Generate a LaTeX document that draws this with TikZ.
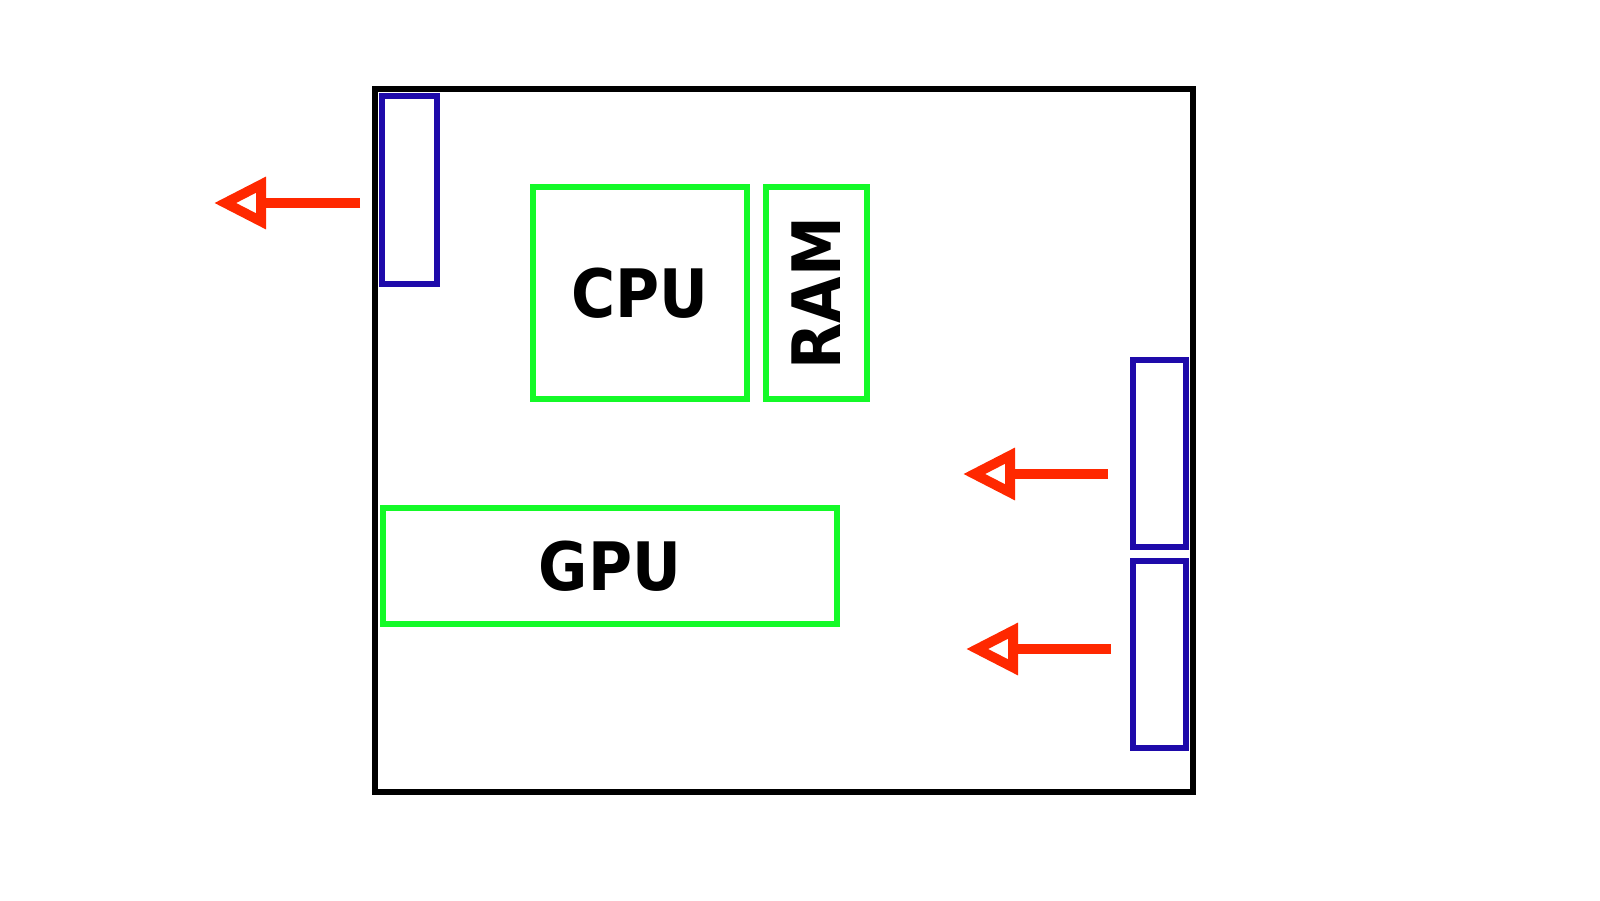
\documentclass[tikz,border=0pt]{standalone}
\usepackage{fontspec}
\newfontfamily\boldcond{DejaVu Sans Condensed}
\usetikzlibrary{arrows.meta}
\definecolor{fanblue}{RGB}{30,10,170}
\definecolor{partgreen}{RGB}{20,250,40}
\definecolor{flowred}{RGB}{255,40,0}
\tikzset{
  casebox/.style={draw=black, line width=1.7pt},
  fanbox/.style={draw=fanblue, line width=1.6pt},
  partfont/.style={font=\boldcond\bfseries\fontsize{19}{21}\selectfont},
  partbox/.style={draw=partgreen, line width=1.6pt, partfont},
  flow/.style={draw=flowred, line width=2.8pt, -{Triangle[open, length=5.2mm, width=5.0mm]}}
}
\begin{document}
\begin{tikzpicture}
\useasboundingbox (0,0) rectangle (16,9);
% case and parts
\draw[casebox] (3.75,1.08) rectangle (11.93,8.11);
\draw[fanbox] (3.82,6.16) rectangle (4.37,8.04);
\draw[fanbox] (11.33,3.53) rectangle (11.86,5.40);
\draw[fanbox] (11.33,1.52) rectangle (11.86,3.39);
\node[partbox, minimum width=2.14cm, minimum height=2.12cm] (cpu) at (6.40,6.07) {CPU};
\node[partbox, minimum width=1.01cm, minimum height=2.12cm] (ram) at (8.165,6.07) {};
\node[partfont, rotate=90] (ramlabel) at (ram) {RAM};
\node[partbox, minimum width=4.54cm, minimum height=1.16cm] (gpu) at (6.10,3.34) {GPU};
% airflow
\coordinate (in1) at (3.60,6.97);
\coordinate (out1) at (2.14,6.97);
\coordinate (in2) at (11.08,4.26);
\coordinate (out2) at (9.63,4.26);
\coordinate (in3) at (11.11,2.51);
\coordinate (out3) at (9.66,2.51);
\draw[flow] (in1) -- (out1);
\draw[flow] (in2) -- (out2);
\draw[flow] (in3) -- (out3);
\end{tikzpicture}
\end{document}
